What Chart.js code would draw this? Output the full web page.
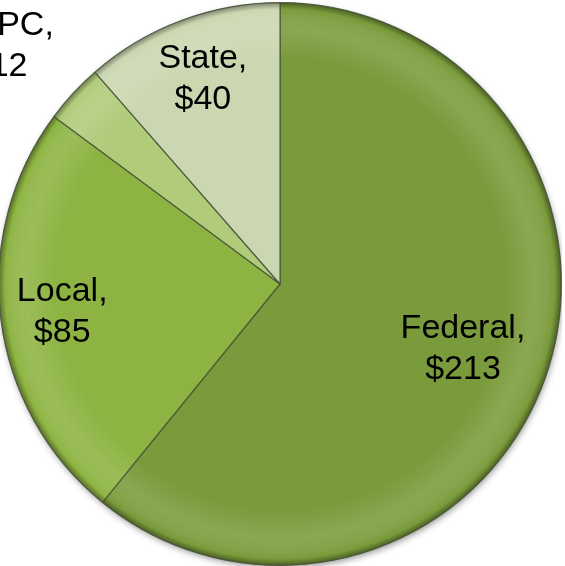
<!DOCTYPE html>
<html lang="en">
<head>
  <meta charset="UTF-8">
  <title>Funding by Source</title>
  <script src="https://cdn.jsdelivr.net/npm/chart.js"></script>
  <style>
    body { margin: 0; padding: 0; background: #fff; overflow: hidden; }
    .wrap { position: absolute; left: -2px; top: 2px; width: 564px; height: 564px; }
  </style>
</head>
<body>
  <div class="wrap"><canvas id="fundChart" width="564" height="564"></canvas></div>

  <script>
    const sources = ['Federal', 'Local', 'MRPC', 'State'];
    const amounts = [213, 85, 12, 40];
    const sliceColors = ['#7a9b3b', '#8db443', '#b0cb7a', '#cbd7b1'];

    // lighten / darken a hex colour by a factor
    function shade(hex, f) {
      const n = parseInt(hex.slice(1), 16);
      let r = n >> 16, g = (n >> 8) & 255, b = n & 255;
      if (f > 0) { r += (255 - r) * f; g += (255 - g) * f; b += (255 - b) * f; }
      else { r *= 1 + f; g *= 1 + f; b *= 1 + f; }
      return `rgb(${Math.round(r)},${Math.round(g)},${Math.round(b)})`;
    }

    // bevelled rim: radial gradient per slice
    function sliceFill(ctx) {
      const base = sliceColors[ctx.dataIndex];
      const chart = ctx.chart;
      const area = chart.chartArea;
      if (!area) return base;
      const cx = (area.left + area.right) / 2, cy = (area.top + area.bottom) / 2;
      const r = Math.min(area.right - area.left, area.bottom - area.top) / 2;
      const g = chart.ctx.createRadialGradient(cx, cy, 0, cx, cy, r);
      g.addColorStop(0, base);
      g.addColorStop(0.8, base);
      g.addColorStop(0.9, shade(base, 0.12));
      g.addColorStop(0.95, shade(base, 0.08));
      g.addColorStop(0.975, base);
      g.addColorStop(0.993, shade(base, -0.3));
      g.addColorStop(1, shade(base, -0.45));
      return g;
    }

    const shadowPlugin = {
      id: 'pieShadow',
      beforeDatasetsDraw(chart) {
        const arc = chart.getDatasetMeta(0).data[0];
        if (!arc) return;
        const c = chart.ctx;
        c.save();
        c.shadowColor = 'rgba(0,0,0,0.45)';
        c.shadowBlur = 7;
        c.shadowOffsetX = 1;
        c.shadowOffsetY = 3;
        c.fillStyle = '#4e6a1f';
        c.beginPath();
        c.arc(arc.x, arc.y, arc.outerRadius - 1, 0, Math.PI * 2);
        c.fill();
        c.restore();
      }
    };

    const labelPlugin = {
      id: 'sliceLabels',
      afterDatasetsDraw(chart) {
        const c = chart.ctx;
        const meta = chart.getDatasetMeta(0);
        const radius = [0.69, 0.78, 1.3, 0.78];
        const nudge = [[0, 0], [0, 0], [-12, 10], [0, 0]];
        c.save();
        c.fillStyle = '#000';
        c.font = '34px "Liberation Sans", Arial, sans-serif';
        c.textAlign = 'center';
        c.textBaseline = 'middle';
        meta.data.forEach((arc, i) => {
          const mid = (arc.startAngle + arc.endAngle) / 2;
          const x = arc.x + Math.cos(mid) * arc.outerRadius * radius[i] + nudge[i][0];
          const y = arc.y + Math.sin(mid) * arc.outerRadius * radius[i] + nudge[i][1];
          c.fillText(sources[i] + ',', x, y - 20);
          c.fillText('$' + amounts[i], x, y + 21);
        });
        c.restore();
      }
    };

    new Chart(document.getElementById('fundChart'), {
      type: 'pie',
      data: {
        labels: sources,
        datasets: [{
          data: amounts,
          backgroundColor: sliceFill,
          borderColor: 'rgba(70,80,55,0.85)',
          borderWidth: 1.2
        }]
      },
      options: {
        responsive: false,
        animation: false,
        layout: { padding: 0 },
        plugins: { legend: { display: false }, tooltip: { enabled: false } }
      },
      plugins: [shadowPlugin, labelPlugin]
    });
  </script>
</body>
</html>
